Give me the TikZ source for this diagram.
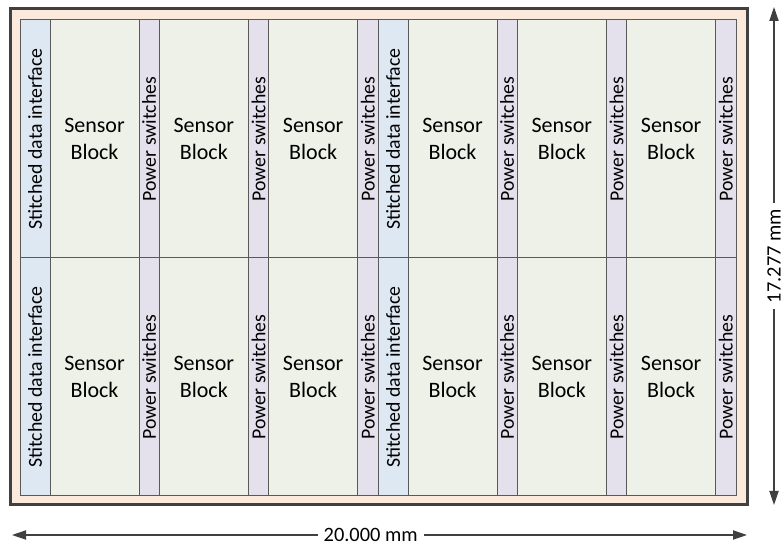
\documentclass[tikz,border=0pt]{standalone}
\usepackage{fontspec}
\setmainfont{Carlito}
\usetikzlibrary{arrows.meta}

\definecolor{chipedge}{HTML}{404040}
\definecolor{chipfill}{HTML}{FBEADC}
\definecolor{celledge}{HTML}{595959}
\definecolor{sensorfill}{HTML}{EEF1E7}
\definecolor{switchfill}{HTML}{E4E0EC}
\definecolor{stitchfill}{HTML}{DEE8F3}

\tikzset{
  cell/.style={draw=celledge, line width=0.5pt, inner sep=0pt, outer sep=0pt,
    anchor=south west, minimum height=119pt, font=\fontsize{9.9}{13}\selectfont},
  sensor/.style={cell, fill=sensorfill, minimum width=44.5pt, align=center,
    font=\fontsize{11}{13.6}\selectfont},
  switches/.style={cell, fill=switchfill, minimum width=10.17pt},
  stitch/.style={cell, fill=stitchfill, minimum width=15pt},
  dim/.style={line width=0.6pt, draw=chipedge, {Triangle[length=7pt,width=4.6pt]}-{Triangle[length=7pt,width=4.6pt]}},
  dimlabel/.style={fill=white, inner sep=3pt, font=\fontsize{10.2}{12}\selectfont}
}

\begin{document}
\begin{tikzpicture}[x=0.5pt,y=0.5pt]
    \useasboundingbox (0,0) rectangle (783,545);
    % die outline
    \draw[line width=1.5pt, draw=chipedge, fill=chipfill] (10.5,40) rectangle (747.5,536);
    % two stitched halves, two rows each
    \foreach \h in {0,1} {
      \foreach \r/\y in {1/49,2/287} {
        \node[stitch] (d-\h-\r) at ({20+358*\h},\y) {\rotatebox{90}{Stitched data interface}};
        \foreach \k in {0,1,2} {
          \node[sensor] (b-\h-\r-\k) at ({50+358*\h+109.33*\k},\y) {Sensor\\Block};
          \node[switches] (p-\h-\r-\k) at ({139+358*\h+109.33*\k},\y) {\rotatebox{90}{Power switches}};
        }
      }
    }
    % dimension ends
    \coordinate (w-l) at (12,10);
    \coordinate (w-r) at (747,10);
    \coordinate (h-b) at (774,40);
    \coordinate (h-t) at (774,538);
    % dimensions
    \draw[dim] (w-l) -- node[dimlabel, pos=0.488] {20.000 mm} (w-r);
    \draw[dim] (h-b) -- node[dimlabel, rotate=90] {17.277 mm} (h-t);
\end{tikzpicture}
\end{document}
